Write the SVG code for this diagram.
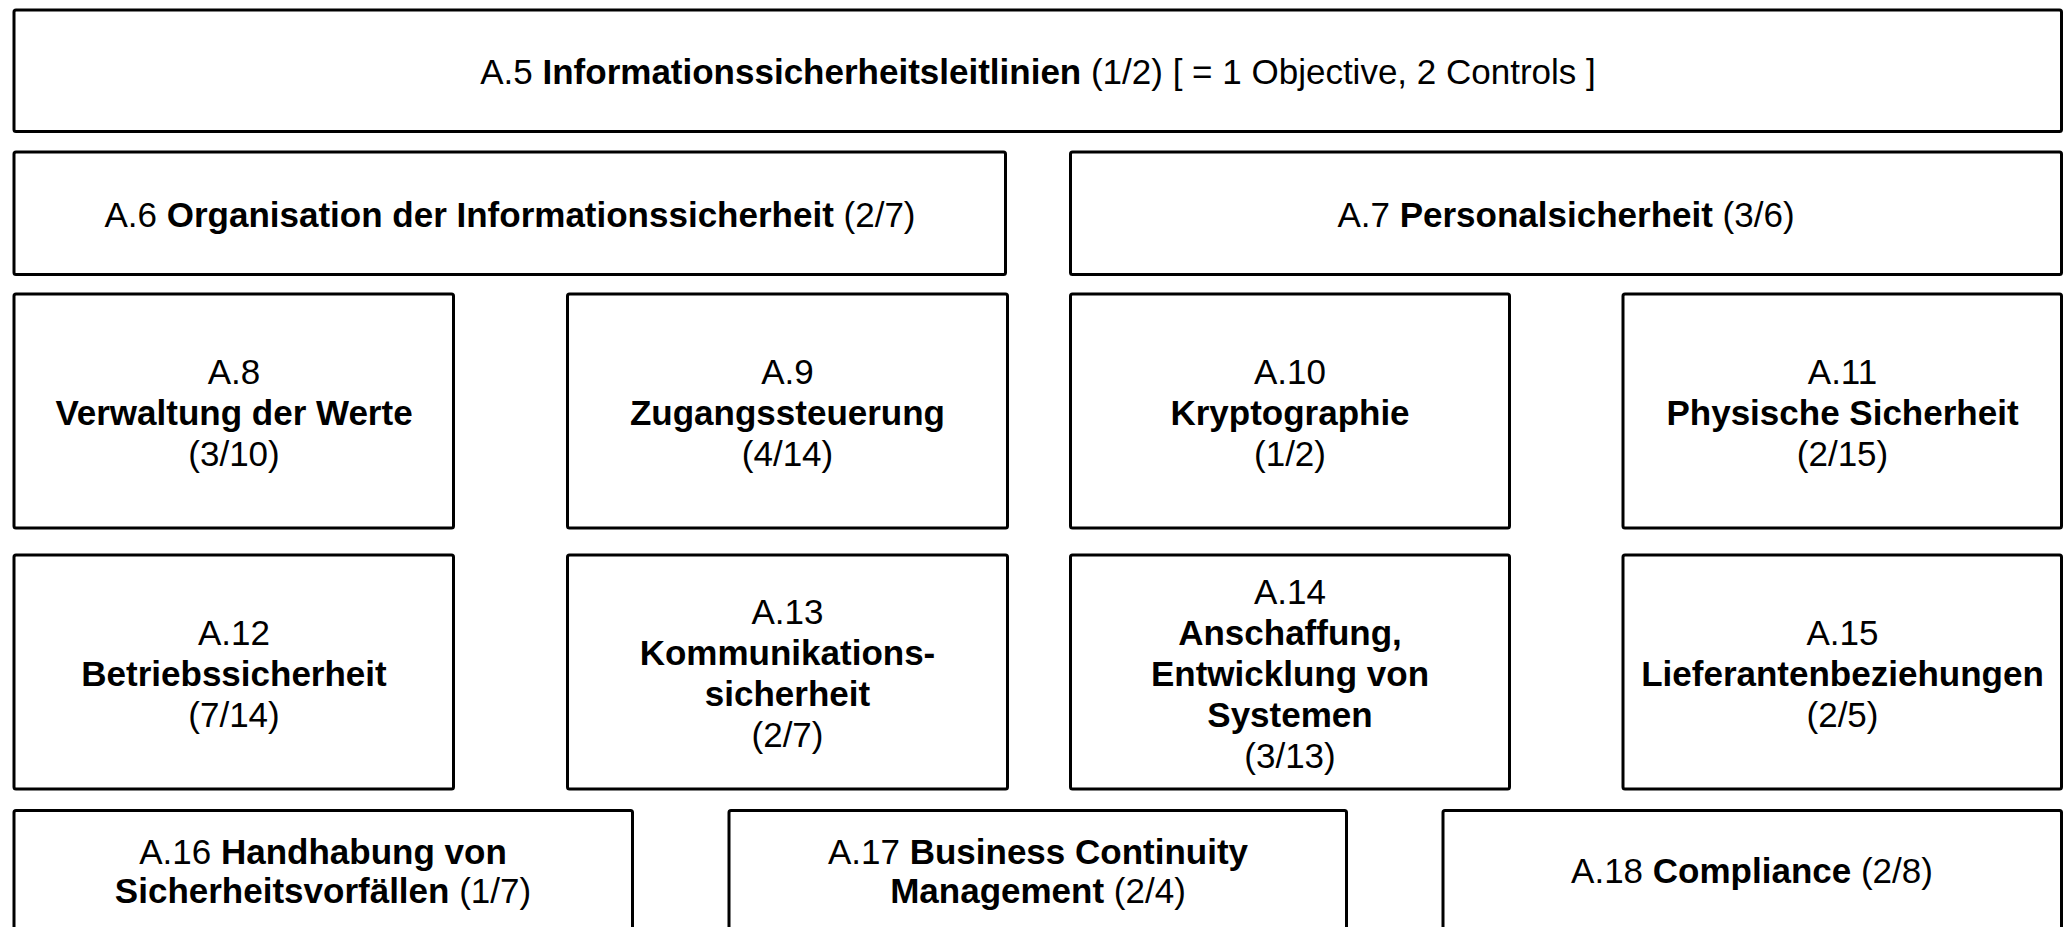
<svg xmlns="http://www.w3.org/2000/svg" width="2069" height="927" viewBox="0 0 2069 927">
<style>
rect.box{fill:#fff;stroke:#000;stroke-width:3}
text{font-family:"Liberation Sans",Arial,Helvetica,sans-serif;font-size:35px;fill:#000;text-anchor:middle}
.b{font-weight:bold}
</style>
<rect x="0" y="0" width="2069" height="927" fill="#fff"/>
<g id="a5"><rect class="box" x="14" y="10" width="2047.5" height="121.5" rx="2"/>
<text x="1038" y="84">A.5 <tspan class="b">Informationssicherheitsleitlinien</tspan> (1/2) [ = 1 Objective, 2 Controls ]</text></g>
<g id="a6"><rect class="box" x="14" y="152" width="991.5" height="122.5" rx="2"/>
<text x="510" y="227">A.6 <tspan class="b">Organisation der Informationssicherheit</tspan> (2/7)</text></g>
<g id="a7"><rect class="box" x="1070.5" y="152" width="991" height="122.5" rx="2"/>
<text x="1566" y="227">A.7 <tspan class="b">Personalsicherheit</tspan> (3/6)</text></g>
<g id="a8"><rect class="box" x="14" y="294" width="439.5" height="234" rx="2"/>
<text x="234" y="384">A.8</text><text class="b" x="234" y="425">Verwaltung der Werte</text><text x="234" y="466">(3/10)</text></g>
<g id="a9"><rect class="box" x="567.5" y="294" width="440" height="234" rx="2"/>
<text x="787.5" y="384">A.9</text><text class="b" x="787.5" y="425">Zugangssteuerung</text><text x="787.5" y="466">(4/14)</text></g>
<g id="a10"><rect class="box" x="1070.5" y="294" width="439" height="234" rx="2"/>
<text x="1290" y="384">A.10</text><text class="b" x="1290" y="425">Kryptographie</text><text x="1290" y="466">(1/2)</text></g>
<g id="a11"><rect class="box" x="1623" y="294" width="438.5" height="234" rx="2"/>
<text x="1842.5" y="384">A.11</text><text class="b" x="1842.5" y="425">Physische Sicherheit</text><text x="1842.5" y="466">(2/15)</text></g>
<g id="a12"><rect class="box" x="14" y="555" width="439.5" height="234" rx="2"/>
<text x="234" y="645">A.12</text><text class="b" x="234" y="686">Betriebssicherheit</text><text x="234" y="727">(7/14)</text></g>
<g id="a13"><rect class="box" x="567.5" y="555" width="440" height="234" rx="2"/>
<text x="787.5" y="624">A.13</text><text class="b" x="787.5" y="665">Kommunikations-</text><text class="b" x="787.5" y="706">sicherheit</text><text x="787.5" y="747">(2/7)</text></g>
<g id="a14"><rect class="box" x="1070.5" y="555" width="439" height="234" rx="2"/>
<text x="1290" y="604">A.14</text><text class="b" x="1290" y="645">Anschaffung,</text><text class="b" x="1290" y="686">Entwicklung von</text><text class="b" x="1290" y="727">Systemen</text><text x="1290" y="768">(3/13)</text></g>
<g id="a15"><rect class="box" x="1623" y="555" width="438.5" height="234" rx="2"/>
<text x="1842.5" y="645">A.15</text><text class="b" x="1842.5" y="686">Lieferantenbeziehungen</text><text x="1842.5" y="727">(2/5)</text></g>
<g id="a16"><rect class="box" x="14" y="810.5" width="618.5" height="123" rx="2"/>
<text x="323" y="864">A.16 <tspan class="b">Handhabung von</tspan></text><text x="323" y="903"><tspan class="b">Sicherheitsvorfällen</tspan> (1/7)</text></g>
<g id="a17"><rect class="box" x="729" y="810.5" width="617.5" height="123" rx="2"/>
<text x="1038" y="864">A.17 <tspan class="b">Business Continuity</tspan></text><text x="1038" y="903"><tspan class="b">Management</tspan> (2/4)</text></g>
<g id="a18"><rect class="box" x="1443" y="810.5" width="618.5" height="123" rx="2"/>
<text x="1752" y="883">A.18 <tspan class="b">Compliance</tspan> (2/8)</text></g>
<g id="connectors"></g>
</svg>
